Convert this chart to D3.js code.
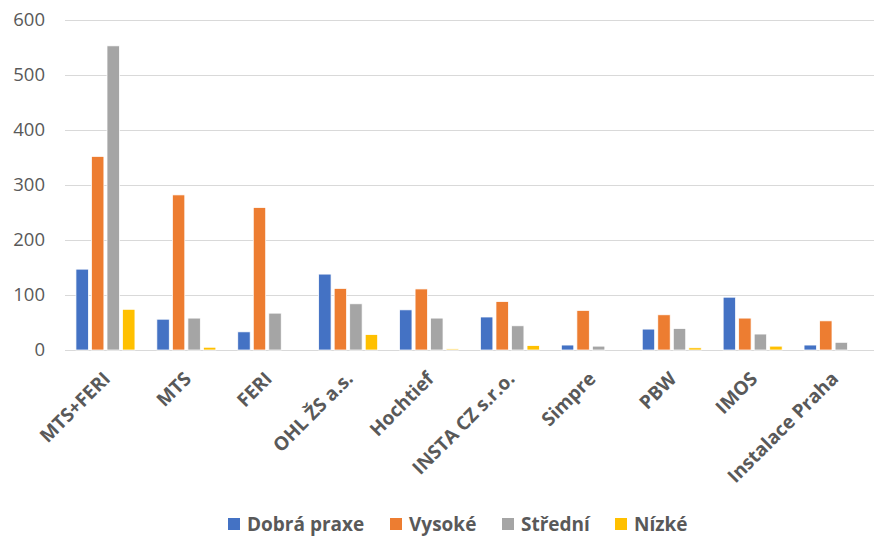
<!DOCTYPE html>
<html><head><meta charset="utf-8">
<script src="https://cdn.jsdelivr.net/npm/d3@7"></script>
<style>body{margin:0;background:#fff;} text{font-family:"Open Sans",sans-serif;}</style>
</head><body>
<svg id="c" width="874" height="536"></svg>
<script>
const categories = ["MTS+FERI","MTS","FERI","OHL ŽS a.s.","Hochtief","INSTA CZ s.r.o.","Simpre","PBW","IMOS","Instalace Praha"];
const seriesNames = ["Dobrá praxe","Vysoké","Střední","Nízké"];
const dobraPraxe = [147,56,33,138,73,60,9,38,96,9];
const vysoke = [352,282,259,112,111,88,72,64,58,53];
const stredni = [553,58,67,84,58,44,7,39,29,14];
const nizke = [74,5,0,28,2,8,0,4,7,0];
const yTicks = [0,100,200,300,400,500,600];
const colors = ["#4472C4","#ED7D31","#A5A5A5","#FFC000"];

(function(){
const values = [dobraPraxe, vysoke, stredni, nizke];
const svg = d3.select("#c");
const mLeft = 65, mRight = 874, mTop = 20, mBottom = 350;
const x = d3.scaleBand().domain(categories).range([mLeft, mRight]);
const y = d3.scaleLinear().domain([0,600]).range([mBottom, mTop]);
const xs = d3.scaleBand().domain(d3.range(4)).range([0, 59]).paddingInner(0.2);

svg.append("g").selectAll("line").data(yTicks).join("line")
  .attr("x1", mLeft).attr("x2", mRight)
  .attr("y1", d=>y(d)+0.5).attr("y2", d=>y(d)+0.5)
  .attr("stroke","#d9d9d9").attr("stroke-width",1);

const yAxis = d3.axisLeft(y).tickValues(yTicks).tickSize(0).tickPadding(0);
const ya = svg.append("g").attr("transform",`translate(45,0)`).call(yAxis);
ya.select(".domain").remove();
ya.selectAll("text").attr("font-size",18.5).attr("fill","#595959").attr("font-family","Open Sans");

const offset = (x.bandwidth() - 59)/2;
categories.forEach((c,i)=>{
  const g = svg.append("g").attr("transform",`translate(${x(c)+offset},0)`);
  values.forEach((arr,s)=>{
    const v = arr[i];
    if (v<=0) return;
    g.append("rect").attr("x", xs(s)).attr("width", xs.bandwidth())
      .attr("y", y(v)).attr("height", mBottom - y(v))
      .attr("fill", colors[s]).attr("stroke","#fff").attr("stroke-width",0.75);
  });
});

svg.append("g").selectAll("text").data(categories).join("text")
  .attr("transform", d=>`translate(${x(d)+x.bandwidth()/2+6},${mBottom+30}) rotate(-45)`)
  .attr("text-anchor","end")
  .attr("font-size",19).attr("font-weight","bold").attr("fill","#595959")
  .text(d=>d);

const legX = [228, 390, 502, 615];
const leg = svg.append("g");
seriesNames.forEach((n,i)=>{
  leg.append("rect").attr("x",legX[i]).attr("y",518).attr("width",12).attr("height",12).attr("fill",colors[i]);
  leg.append("text").attr("x",legX[i]+19).attr("y",530.5)
    .attr("font-size",19).attr("font-weight","bold").attr("fill","#595959").text(n);
});
})();
</script>
</body></html>
